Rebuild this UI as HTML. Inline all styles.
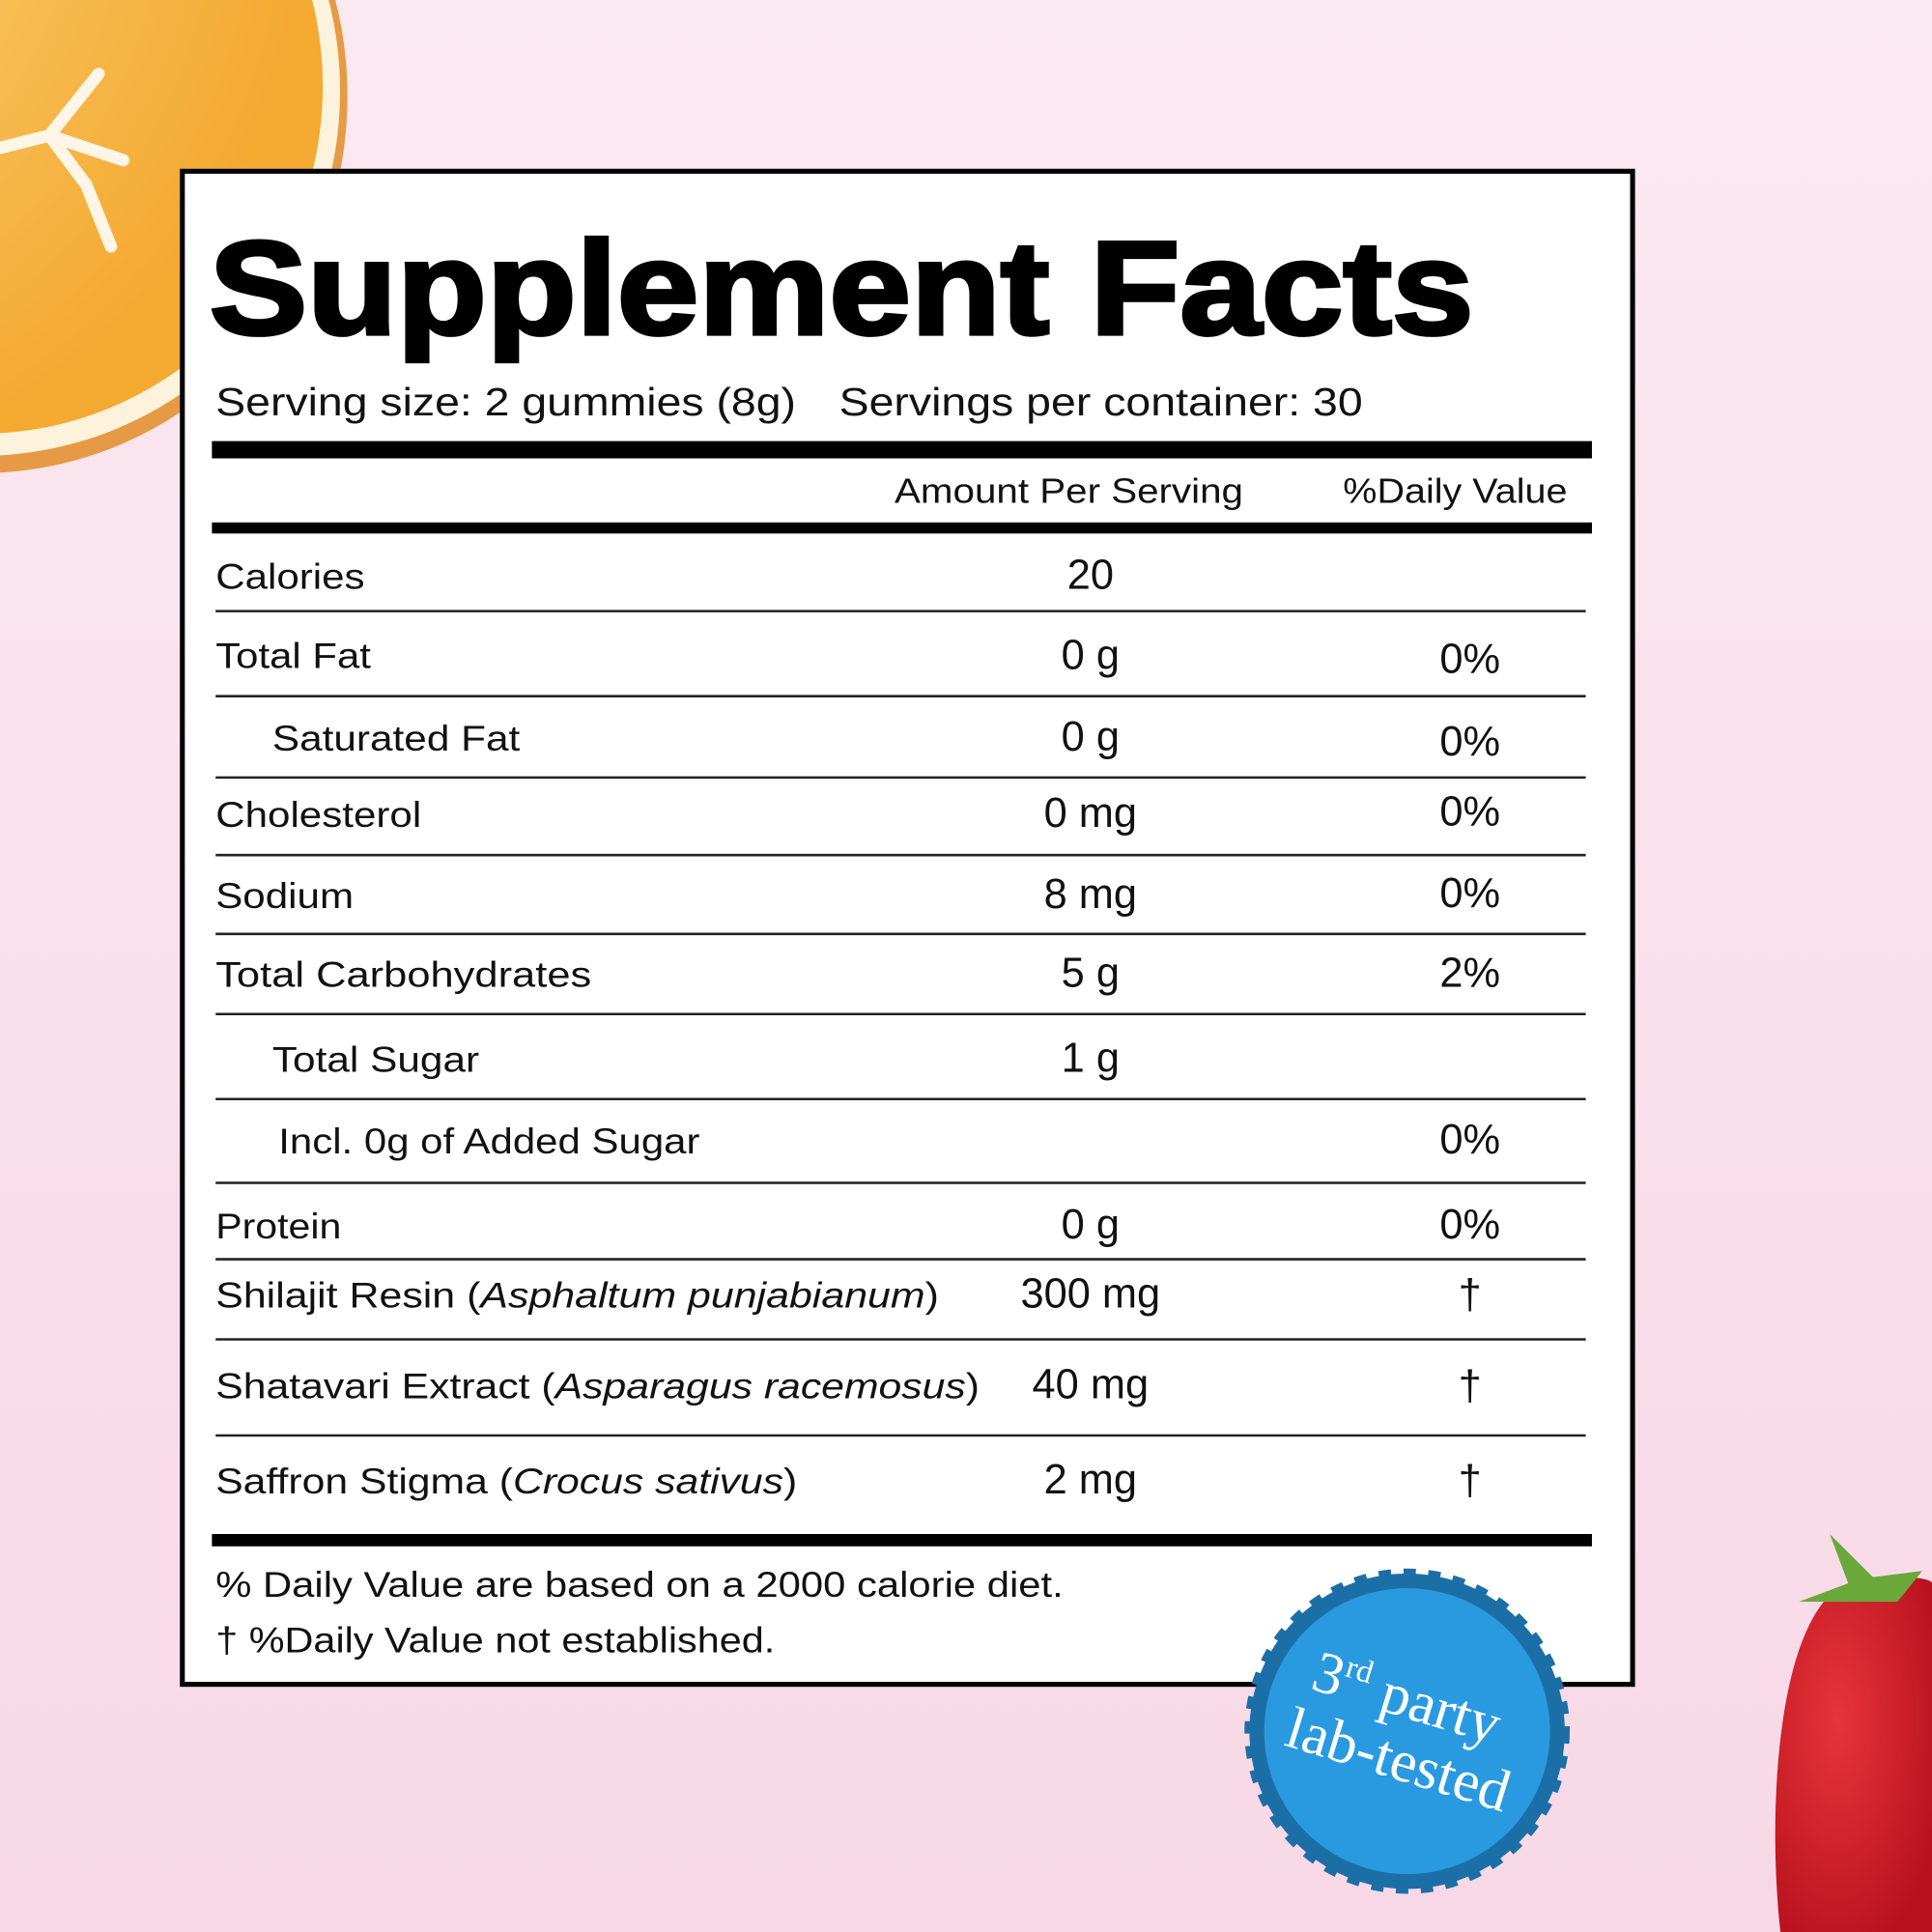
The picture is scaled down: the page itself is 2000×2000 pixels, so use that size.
<!DOCTYPE html>
<html><head><meta charset="utf-8"><style>
html,body{margin:0;padding:0;width:2000px;height:2000px;overflow:hidden}
svg{display:block}
text{font-family:"Liberation Sans",sans-serif;fill:#111}
</style></head><body>
<svg width="2000" height="2000" viewBox="0 0 1568 1568" xmlns="http://www.w3.org/2000/svg">
<defs>
<linearGradient id="bg" x1="0" y1="0" x2="0" y2="1">
<stop offset="0" stop-color="#fbe9f1"/><stop offset="1" stop-color="#f8d8e6"/>
</linearGradient>
<radialGradient id="or" cx="0.1" cy="0.2" r="0.9">
<stop offset="0" stop-color="#fbd27a"/><stop offset="1" stop-color="#f4a930"/>
</radialGradient>
<radialGradient id="sb" cx="0.4" cy="0.4" r="0.7">
<stop offset="0" stop-color="#e8343a"/><stop offset="1" stop-color="#b8121e"/>
</radialGradient>
</defs>
<rect width="1568" height="1568" fill="url(#bg)"/>
<!-- orange -->
<ellipse cx="-16" cy="78" rx="298" ry="306" fill="#e79a45"/>
<ellipse cx="-16" cy="74" rx="292" ry="296" fill="#fdf3dc"/>
<ellipse cx="-16" cy="70" rx="278" ry="282" fill="url(#or)"/>
<path d="M0 120 L40 110 L80 60 M40 110 L70 150 L90 200 M40 110 L100 130" stroke="#fff6e8" stroke-width="10" fill="none" stroke-linecap="round"/>
<!-- strawberry -->
<path d="M1490 1290 C1530 1275 1568 1280 1568 1285 L1568 1568 L1445 1568 C1435 1480 1440 1330 1490 1290 Z" fill="url(#sb)"/>
<path d="M1460 1300 L1500 1285 L1485 1245 L1520 1280 L1560 1275 L1540 1300 Z" fill="#6aa83a"/>
<!-- box -->
<rect x="148" y="139" width="1177" height="1228" fill="#fff" stroke="#000" stroke-width="4"/>
<text x="170" y="271" font-size="108" font-weight="bold" stroke="#000" stroke-width="3" textLength="1026" lengthAdjust="spacingAndGlyphs" style="fill:#000">Supplement Facts</text>
<text x="175" y="337" font-size="32" textLength="471" lengthAdjust="spacingAndGlyphs">Serving size: 2 gummies (8g)</text>
<text x="681" y="337" font-size="32" textLength="425" lengthAdjust="spacingAndGlyphs">Servings per container: 30</text>
<rect x="172" y="358" width="1120" height="14" fill="#000"/>
<text x="726" y="408" font-size="28" textLength="283" lengthAdjust="spacingAndGlyphs">Amount Per Serving</text>
<text x="1090" y="408" font-size="28" textLength="182" lengthAdjust="spacingAndGlyphs">%Daily Value</text>
<rect x="172" y="424" width="1120" height="9" fill="#000"/>
<g stroke="#222" stroke-width="2">
<line x1="175" x2="1287" y1="496" y2="496"/><line x1="175" x2="1287" y1="565" y2="565"/>
<line x1="175" x2="1287" y1="631" y2="631"/><line x1="175" x2="1287" y1="694" y2="694"/>
<line x1="175" x2="1287" y1="758" y2="758"/><line x1="175" x2="1287" y1="823" y2="823"/>
<line x1="175" x2="1287" y1="892" y2="892"/><line x1="175" x2="1287" y1="960" y2="960"/>
<line x1="175" x2="1287" y1="1022" y2="1022"/><line x1="175" x2="1287" y1="1087" y2="1087"/>
<line x1="175" x2="1287" y1="1165" y2="1165"/>
</g>
<g font-size="29">
<text x="175" y="478" textLength="121" lengthAdjust="spacingAndGlyphs">Calories</text>
<text x="175" y="542" textLength="126" lengthAdjust="spacingAndGlyphs">Total Fat</text>
<text x="221" y="609" textLength="201" lengthAdjust="spacingAndGlyphs">Saturated Fat</text>
<text x="175" y="671" textLength="167" lengthAdjust="spacingAndGlyphs">Cholesterol</text>
<text x="175" y="737" textLength="112" lengthAdjust="spacingAndGlyphs">Sodium</text>
<text x="175" y="801" textLength="305" lengthAdjust="spacingAndGlyphs">Total Carbohydrates</text>
<text x="221" y="870" textLength="168" lengthAdjust="spacingAndGlyphs">Total Sugar</text>
<text x="226" y="936" textLength="342" lengthAdjust="spacingAndGlyphs">Incl. 0g of Added Sugar</text>
<text x="175" y="1005" textLength="102" lengthAdjust="spacingAndGlyphs">Protein</text>
<text x="175" y="1061" textLength="587" lengthAdjust="spacingAndGlyphs">Shilajit Resin (<tspan font-style="italic">Asphaltum punjabianum</tspan>)</text>
<text x="175" y="1135" textLength="620" lengthAdjust="spacingAndGlyphs">Shatavari Extract (<tspan font-style="italic">Asparagus racemosus</tspan>)</text>
<text x="175" y="1212" textLength="472" lengthAdjust="spacingAndGlyphs">Saffron Stigma (<tspan font-style="italic">Crocus sativus</tspan>)</text>
</g>
<g font-size="34" text-anchor="middle">
<text x="885" y="478">20</text><text x="885" y="543">0 g</text><text x="885" y="609">0 g</text>
<text x="885" y="671">0 mg</text><text x="885" y="737">8 mg</text><text x="885" y="801">5 g</text>
<text x="885" y="870">1 g</text><text x="885" y="1005">0 g</text><text x="885" y="1061">300 mg</text>
<text x="885" y="1135">40 mg</text><text x="885" y="1212">2 mg</text>
<text x="1193" y="546">0%</text><text x="1193" y="613">0%</text><text x="1193" y="670">0%</text>
<text x="1193" y="736">0%</text><text x="1193" y="801">2%</text><text x="1193" y="936">0%</text>
<text x="1193" y="1005">0%</text><text x="1193" y="1062">†</text><text x="1193" y="1136">†</text><text x="1193" y="1213">†</text>
</g>
<rect x="172" y="1245" width="1120" height="10" fill="#000"/>
<text x="175" y="1296" font-size="29" textLength="688" lengthAdjust="spacingAndGlyphs">% Daily Value are based on a 2000 calorie diet.</text>
<text x="175" y="1341" font-size="29" textLength="454" lengthAdjust="spacingAndGlyphs">† %Daily Value not established.</text>
<!-- badge -->
<g transform="translate(1142 1405)">
<circle r="128" fill="#1c6fa6" stroke="#1c6fa6" stroke-width="8" stroke-dasharray="10 10"/>
<circle r="116" fill="#2a9ae0"/>
<g transform="rotate(17)">
<text x="-8" y="-10" font-size="48" text-anchor="middle" style="fill:#fff;font-family:'Liberation Serif',serif">3<tspan font-size="26" dy="-18">rd</tspan><tspan dy="18"> party</tspan></text>
<text x="0" y="40" font-size="48" text-anchor="middle" style="fill:#fff;font-family:'Liberation Serif',serif">lab-tested</text>
</g>
</g>
</svg>
</body></html>
